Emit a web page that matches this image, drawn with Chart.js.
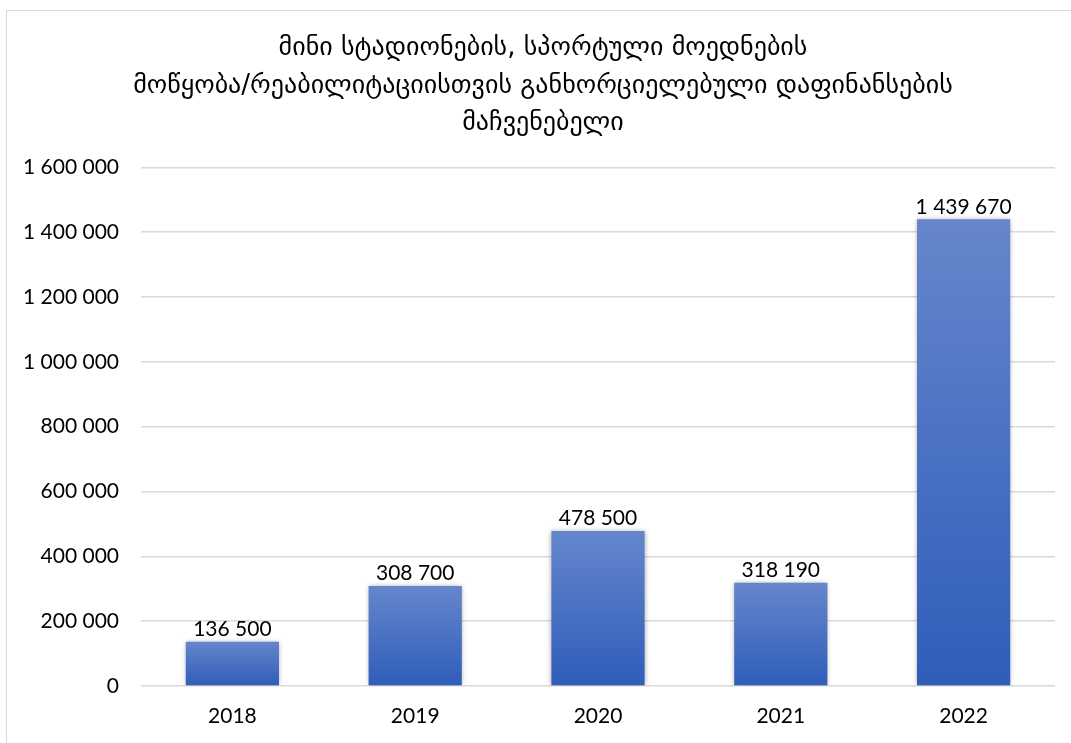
<!DOCTYPE html>
<html>
<head>
<meta charset="utf-8">
<script src="https://cdn.jsdelivr.net/npm/chart.js@4.4.1/dist/chart.umd.min.js"></script>
<style>
    body { margin: 0; background: #fff; overflow: hidden; }
    #wrap { position: relative; width: 1071px; height: 743px; }
    #frame { position: absolute; left: 6px; top: 10px; width: 1100px; height: 800px; border: 1px solid #d9d9d9; }
    #chart { position: absolute; left: 0; top: 0; }
</style>
</head>
<body>
<div id="wrap">
    <div id="frame"></div>
    <canvas id="chart" width="1071" height="743"></canvas>
</div>
<script>
const years = ['2018', '2019', '2020', '2021', '2022'];
const funding = [136500, 308700, 478500, 318190, 1439670];
const titleLines = [
    'მინი სტადიონების, სპორტული მოედნების',
    'მოწყობა/რეაბილიტაციისთვის განხორციელებული დაფინანსების',
    'მაჩვენებელი'
];

const numberFont = "Lato, 'Liberation Sans', sans-serif";

// ათასების გამყოფი - ჰარი
function formatNumber(v) {
    return String(v).replace(/\B(?=(\d{3})+(?!\d))/g, ' ');
}

// თითოეულ სვეტზე ცალკე გრადიენტი
function barGradient(context) {
    const chart = context.chart;
    const y = chart.scales.y;
    if (!chart.chartArea || !y) return '#4472c4';
    const top = y.getPixelForValue(funding[context.dataIndex]);
    const bottom = y.getPixelForValue(0);
    const g = chart.ctx.createLinearGradient(0, top, 0, bottom);
    g.addColorStop(0, '#6586cb');
    g.addColorStop(1, '#2f5dba');
    return g;
}

// სათაური ცოტა მარჯვნივ, ორიგინალის მსგავსად
const titleShift = {
    id: 'titleShift',
    afterLayout(chart) {
        if (chart.titleBlock) chart.titleBlock.right = chart.width + 15;
    }
};

const barShadow = {
    id: 'barShadow',
    beforeDatasetDraw(chart) {
        const ctx = chart.ctx;
        ctx.save();
        ctx.shadowColor = 'rgba(0, 0, 0, 0.35)';
        ctx.shadowBlur = 5;
        ctx.shadowOffsetX = 0;
        ctx.shadowOffsetY = 0;
    },
    afterDatasetDraw(chart) {
        chart.ctx.restore();
    }
};

const valueLabels = {
    id: 'valueLabels',
    afterDatasetsDraw(chart) {
        const ctx = chart.ctx;
        const meta = chart.getDatasetMeta(0);
        ctx.save();
        ctx.font = '21px ' + numberFont;
        ctx.fillStyle = '#000';
        ctx.textAlign = 'center';
        ctx.textBaseline = 'bottom';
        meta.data.forEach((bar, i) => {
            ctx.fillText(formatNumber(funding[i]), bar.x, bar.y - 2);
        });
        ctx.restore();
    }
};

new Chart(document.getElementById('chart'), {
    type: 'bar',
    data: {
        labels: years,
        datasets: [{
            data: funding,
            backgroundColor: barGradient,
            borderWidth: 0,
            categoryPercentage: 1,
            barPercentage: 0.51
        }]
    },
    options: {
        responsive: false,
        animation: false,
        layout: {
            padding: { left: 0, right: 16, top: 0, bottom: 14 }
        },
        scales: {
            x: {
                afterFit(scale) { scale.height = 43; },
                grid: { display: false, drawTicks: false },
                border: { display: false },
                ticks: {
                    color: '#000',
                    padding: 18,
                    font: { family: numberFont, size: 21 }
                }
            },
            y: {
                min: 0,
                max: 1600000,
                afterFit(scale) { scale.width = 141; },
                grid: { color: '#d9d9d9', lineWidth: 1.5, drawTicks: false },
                border: { display: false },
                ticks: {
                    stepSize: 200000,
                    color: '#000',
                    padding: 22,
                    font: { family: numberFont, size: 21 },
                    callback: v => formatNumber(v)
                }
            }
        },
        plugins: {
            legend: { display: false },
            tooltip: { enabled: false },
            title: {
                display: true,
                text: titleLines,
                color: '#000',
                font: { family: "'DejaVu Sans', sans-serif", size: 26, weight: 'normal', lineHeight: 1.44 },
                padding: { top: 30, bottom: 25 }
            }
        }
    },
    plugins: [titleShift, barShadow, valueLabels]
});
</script>
</body>
</html>
